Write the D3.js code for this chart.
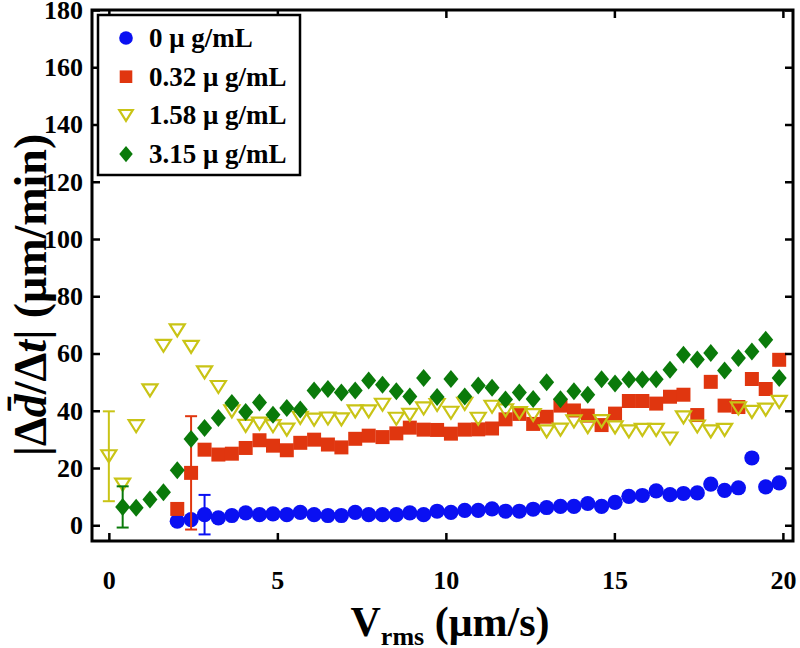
<!DOCTYPE html><html><head><meta charset="utf-8">
<script src="https://cdn.jsdelivr.net/npm/d3@7"></script>
<style>
body { margin: 0; background: #fff; }
text { font-family: "Liberation Serif", "Times New Roman", serif; font-weight: bold; }
</style>
</head>
<body><svg id="chart" width="800" height="648"></svg>
<script>

// V_rms bin centres (um/s)
var vrms = [0, 0.41, 0.81, 1.22, 1.62, 2.03, 2.44, 2.84, 3.25, 3.65,
            4.06, 4.47, 4.87, 5.28, 5.68, 6.09, 6.5, 6.9, 7.31, 7.71,
            8.12, 8.53, 8.93, 9.34, 9.74, 10.15, 10.56, 10.96, 11.37, 11.77,
            12.18, 12.59, 12.99, 13.4, 13.8, 14.21, 14.62, 15.02, 15.43, 15.83,
            16.24, 16.65, 17.05, 17.46, 17.86, 18.27, 18.68, 19.08, 19.49, 19.89];

var conc0 = [null, null, null, null, null, 1.4, 2.0, 3.7, 2.6, 3.4,
             4.3, 3.7, 4.0, 3.7, 4.5, 3.7, 3.4, 3.4, 4.5, 3.7,
             3.7, 3.7, 4.3, 3.7, 4.9, 4.5, 5.2, 5.2, 5.7, 4.9,
             4.9, 5.6, 6.2, 6.6, 6.6, 7.6, 6.6, 8.0, 10.1, 10.4,
             12.0, 10.7, 11.1, 11.3, 14.4, 12.2, 13.1, 23.5, 13.4, 14.8];

var conc032 = [null, null, null, null, null, 5.7, 18.3, 26.4, 24.7, 25.0,
               27.0, 29.7, 27.8, 26.2, 28.8, 29.9, 28.2, 27.2, 30.2, 31.3,
               30.8, 32.1, 34.1, 33.4, 33.3, 32.0, 33.4, 33.5, 33.8, 37.0,
               38.9, 35.4, 37.9, 41.8, 40.1, 38.3, 35.0, 39.0, 43.4, 43.4,
               42.5, 44.9, 45.6, 38.5, 50.1, 41.8, 41.3, 51.1, 47.6, 57.8];

var conc158 = [24.1, 14.2, 34.6, 47.1, 62.7, 68.1, 62.3, 53.4, 48.3, 39.8,
               34.7, 35.5, 34.6, 33.4, 37.5, 36.9, 37.3, 37.0, 39.8, 39.8,
               42.1, 37.2, 38.6, 40.8, 42.0, 39.3, 42.4, 37.2, 41.4, 40.1,
               39.2, 38.5, 32.8, 33.4, 36.3, 34.3, 36.4, 34.2, 32.8, 33.3,
               33.3, 30.3, 37.7, 34.5, 32.8, 33.3, 40.8, 39.6, 40.4, 43.1];

var conc315 = [null, 6.4, 6.1, 9.0, 11.5, 19.2, 30.1, 34.0, 37.5, 42.7,
               39.6, 42.9, 38.6, 41.0, 40.4, 47.1, 47.6, 46.4, 47.1, 50.6,
               49.1, 46.8, 45.0, 51.4, 44.8, 51.1, 45.0, 48.8, 48.0, 43.9,
               46.4, 44.1, 50.0, 44.0, 46.8, 45.6, 51.0, 49.5, 50.9, 50.9,
               51.0, 54.3, 59.6, 57.9, 60.2, 54.1, 58.4, 60.7, 64.8, 51.4];

var legendLabels = ["0 \u03bc g/mL", "0.32 \u03bc g/mL", "1.58 \u03bc g/mL", "3.15 \u03bc g/mL"];
// one error bar per series: point index and half length
var errIndex = [7, 6, 0, 1];
var errHalf = [6.9, 19.8, 15.7, 7.2];

var xTicks = [0, 5, 10, 15, 20];
var yTicks = [0, 20, 40, 60, 80, 100, 120, 140, 160, 180];

var colors = ["#0a10f2", "#e0360f", "#c9c416", "#0a7a0a"];
var shapes = ["circle", "square", "tri", "diamond"];
var allSeries = [conc0, conc032, conc158, conc315];

var pLeft = 92, pRight = 793, pTop = 10, pBottom = 541;

var x = d3.scaleLinear().domain([-0.5, 20.3]).range([pLeft, pRight]);
var y = d3.scaleLinear().domain([-5.5, 180]).range([pBottom, pTop]);

var svg = d3.select("#chart");
svg.append("rect").attr("width", 800).attr("height", 648).attr("fill", "#fff");

function markerPath(shape, s) {
  if (shape == "circle") return d3.symbol(d3.symbolCircle, Math.PI * 7.6 * 7.6 * s * s)();
  if (shape == "square") return d3.symbol(d3.symbolSquare, 14 * 14 * s * s)();
  if (shape == "tri") {
    var w = 7.5 * s, h = 6 * s;
    return "M" + (-w) + "," + (-h) + "L" + w + "," + (-h) + "L0," + h + "Z";
  }
  var dw = 7.5 * s, dh = 9 * s;
  return "M0," + (-dh) + "L" + dw + ",0L0," + dh + "L" + (-dw) + ",0Z";
}

function styleMarker(sel, i) {
  if (shapes[i] == "tri") {
    sel.attr("fill", "none").attr("stroke", colors[i]).attr("stroke-width", 2.2);
  } else {
    sel.attr("fill", colors[i]).attr("stroke", "none");
  }
}

// series, drawn in legend order
allSeries.forEach(function(vals, si) {
  var pts = [];
  vals.forEach(function(v, i) { if (v != null) pts.push([vrms[i], v]); });
  var g = svg.append("g").attr("class", "series" + si);

  var ei = errIndex[si];
  var ex = x(vrms[ei]), ey1 = y(vals[ei] + errHalf[si]), ey2 = y(vals[ei] - errHalf[si]);
  var eb = g.append("g").attr("stroke", colors[si]).attr("stroke-width", 2);
  eb.append("line").attr("x1", ex).attr("x2", ex).attr("y1", ey1).attr("y2", ey2);
  eb.append("line").attr("x1", ex - 6).attr("x2", ex + 6).attr("y1", ey1).attr("y2", ey1);
  eb.append("line").attr("x1", ex - 6).attr("x2", ex + 6).attr("y1", ey2).attr("y2", ey2);

  g.selectAll("path.pt").data(pts).enter().append("path")
    .attr("class", "pt")
    .attr("d", markerPath(shapes[si], 1))
    .attr("transform", function(d) { return "translate(" + x(d[0]) + "," + y(d[1]) + ")"; })
    .call(styleMarker, si);
});

// axes with inward ticks on all four sides
var tickLen = 8;
var gx = svg.append("g").attr("transform", "translate(0," + pBottom + ")")
  .call(d3.axisBottom(x).tickValues(xTicks).tickSizeInner(-tickLen).tickSizeOuter(0).tickPadding(30));
var gxt = svg.append("g").attr("transform", "translate(0," + pTop + ")")
  .call(d3.axisTop(x).tickValues(xTicks).tickSizeInner(-tickLen).tickSizeOuter(0).tickFormat(""));
var gy = svg.append("g").attr("transform", "translate(" + pLeft + ",0)")
  .call(d3.axisLeft(y).tickValues(yTicks).tickSizeInner(-tickLen).tickSizeOuter(0).tickPadding(9));
var gyr = svg.append("g").attr("transform", "translate(" + pRight + ",0)")
  .call(d3.axisRight(y).tickValues(yTicks).tickSizeInner(-tickLen).tickSizeOuter(0).tickFormat(""));

[gx, gxt, gy, gyr].forEach(function(g) {
  g.select(".domain").remove();
  g.selectAll(".tick line").attr("stroke", "#000").attr("stroke-width", 2.5);
  g.selectAll(".tick text").attr("fill", "#000").style("font-size", "26px")
    .style("font-family", "'Liberation Serif', serif").style("font-weight", "bold");
});

svg.append("rect")
  .attr("x", pLeft).attr("y", pTop)
  .attr("width", pRight - pLeft).attr("height", pBottom - pTop)
  .attr("fill", "none").attr("stroke", "#000").attr("stroke-width", 3);

// legend
var lg = svg.append("g").attr("transform", "translate(98,15)");
lg.append("rect").attr("width", 202).attr("height", 160)
  .attr("fill", "#fff").attr("stroke", "#000").attr("stroke-width", 2.5);
legendLabels.forEach(function(lab, i) {
  var ly = 23 + i * 38.7;
  lg.append("path").attr("d", markerPath(shapes[i], 0.9))
    .attr("transform", "translate(28," + ly + ")").call(styleMarker, i);
  lg.append("text").attr("x", 51).attr("y", ly + 9)
    .style("font-size", "27px").text(lab);
});

// axis titles
var xl = svg.append("text").attr("x", 450).attr("y", 636)
  .attr("text-anchor", "middle").style("font-size", "42px");
xl.append("tspan").text("V");
xl.append("tspan").attr("dy", 9).style("font-size", "26px").text("rms");
xl.append("tspan").attr("dy", -9).text(" (\u03bcm/s)");

var yl = svg.append("text")
  .attr("transform", "translate(46,295) rotate(-90)")
  .attr("text-anchor", "middle").style("font-size", "46px");
yl.append("tspan").text("|\u0394");
yl.append("tspan").style("font-style", "italic").text("d\u0304");
yl.append("tspan").text("/\u0394");
yl.append("tspan").style("font-style", "italic").text("t");
yl.append("tspan").text("| (\u03bcm/min)");

</script>
</body></html>
